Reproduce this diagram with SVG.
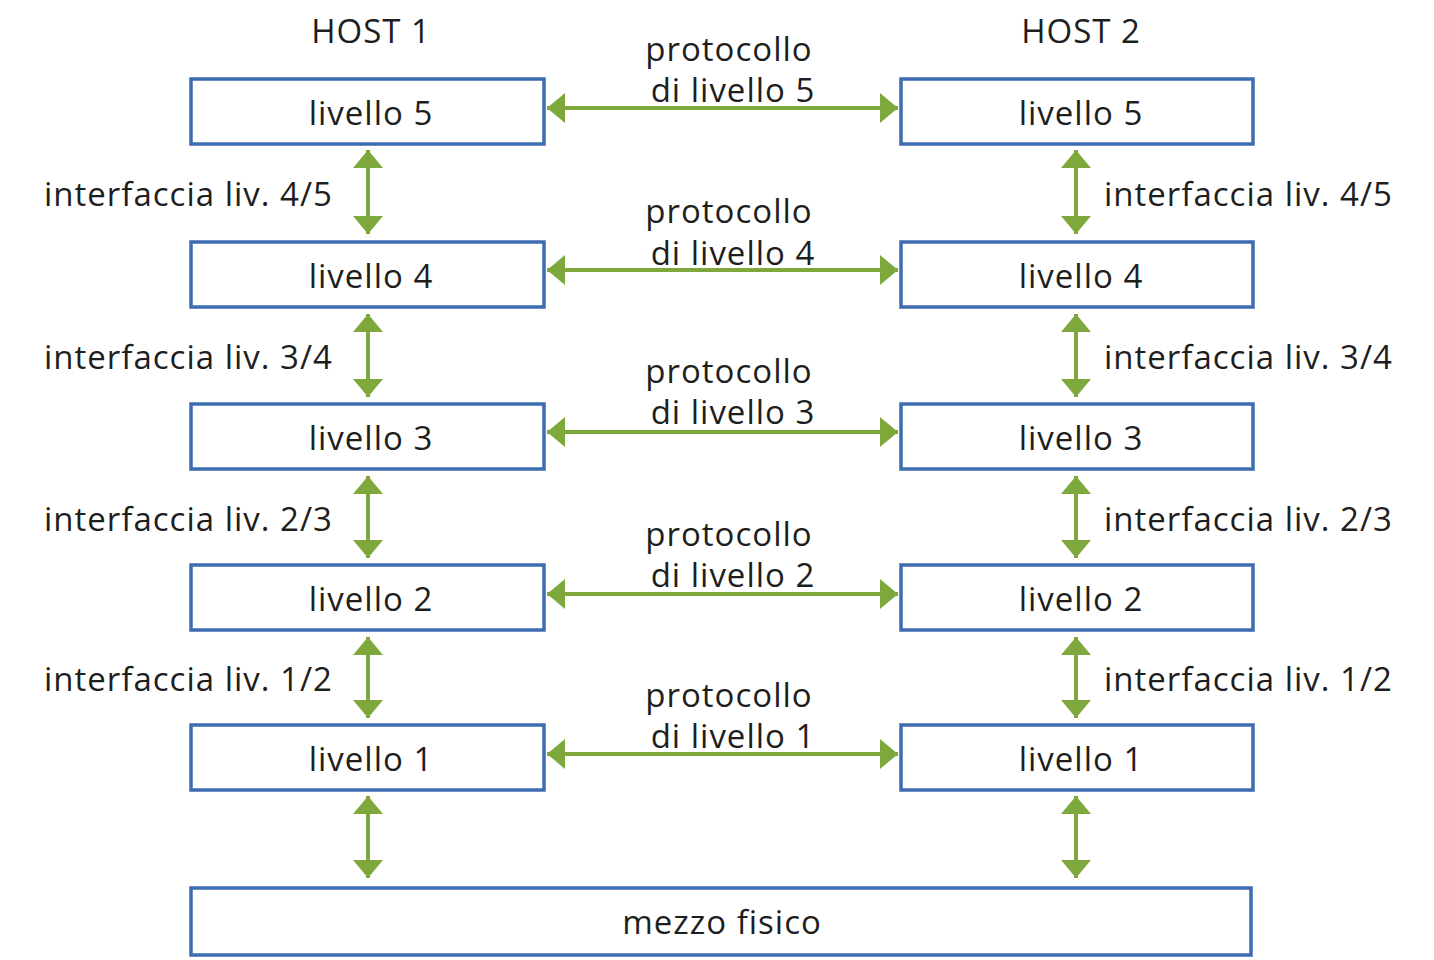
<svg xmlns="http://www.w3.org/2000/svg" width="1434" height="960" viewBox="0 0 1434 960">
<style>
.box{fill:#fff;stroke:#3d6cb0;stroke-width:3.5}
.t{font-family:"Open Sans","Noto Sans",sans-serif;font-size:33px;letter-spacing:1px;fill:#1e1e1e}
.c{text-anchor:middle}
.arr{stroke:#7fa83c;stroke-width:4;fill:none;marker-start:url(#ah);marker-end:url(#ah)}
</style>
<defs>
<marker id="ah" markerUnits="userSpaceOnUse" markerWidth="20" markerHeight="32" viewBox="0 -16 20 32" refX="18" refY="0" orient="auto-start-reverse">
<path d="M0,-15 L18,0 L0,15 Z" fill="#7fa83c"/>
</marker>
</defs>
<rect width="1434" height="960" fill="#fff"/>
<text class="t c" x="371" y="43">HOST 1</text>
<text class="t c" x="1081" y="43">HOST 2</text>
<g id="h1l5"><rect class="box" x="191" y="79" width="353" height="65"/><text class="t c" x="371" y="125">livello 5</text></g>
<g id="h1l4"><rect class="box" x="191" y="242" width="353" height="65"/><text class="t c" x="371" y="288">livello 4</text></g>
<g id="h1l3"><rect class="box" x="191" y="404" width="353" height="65"/><text class="t c" x="371" y="450">livello 3</text></g>
<g id="h1l2"><rect class="box" x="191" y="565" width="353" height="65"/><text class="t c" x="371" y="611">livello 2</text></g>
<g id="h1l1"><rect class="box" x="191" y="725" width="353" height="65"/><text class="t c" x="371" y="771">livello 1</text></g>
<g id="h2l5"><rect class="box" x="901" y="79" width="352" height="65"/><text class="t c" x="1081" y="125">livello 5</text></g>
<g id="h2l4"><rect class="box" x="901" y="242" width="352" height="65"/><text class="t c" x="1081" y="288">livello 4</text></g>
<g id="h2l3"><rect class="box" x="901" y="404" width="352" height="65"/><text class="t c" x="1081" y="450">livello 3</text></g>
<g id="h2l2"><rect class="box" x="901" y="565" width="352" height="65"/><text class="t c" x="1081" y="611">livello 2</text></g>
<g id="h2l1"><rect class="box" x="901" y="725" width="352" height="65"/><text class="t c" x="1081" y="771">livello 1</text></g>
<g id="mezzo"><rect class="box" x="191" y="888" width="1060" height="67"/><text class="t c" x="722" y="934">mezzo fisico</text></g>
<g id="connectors">
<line class="arr" x1="547" y1="108" x2="898" y2="108"/>
<line class="arr" x1="547" y1="270" x2="898" y2="270"/>
<line class="arr" x1="547" y1="432" x2="898" y2="432"/>
<line class="arr" x1="547" y1="594" x2="898" y2="594"/>
<line class="arr" x1="547" y1="754" x2="898" y2="754"/>
<line class="arr" x1="368" y1="150" x2="368" y2="234"/>
<line class="arr" x1="368" y1="314" x2="368" y2="397"/>
<line class="arr" x1="368" y1="476" x2="368" y2="558"/>
<line class="arr" x1="368" y1="637" x2="368" y2="718"/>
<line class="arr" x1="368" y1="796" x2="368" y2="878"/>
<line class="arr" x1="1076" y1="150" x2="1076" y2="234"/>
<line class="arr" x1="1076" y1="314" x2="1076" y2="397"/>
<line class="arr" x1="1076" y1="476" x2="1076" y2="558"/>
<line class="arr" x1="1076" y1="637" x2="1076" y2="718"/>
<line class="arr" x1="1076" y1="796" x2="1076" y2="878"/>
</g>
<g id="labels">
<text class="t c" x="729" y="61">protocollo</text><text class="t c" x="733" y="102">di livello 5</text>
<text class="t c" x="729" y="223">protocollo</text><text class="t c" x="733" y="265">di livello 4</text>
<text class="t c" x="729" y="383">protocollo</text><text class="t c" x="733" y="424">di livello 3</text>
<text class="t c" x="729" y="546">protocollo</text><text class="t c" x="733" y="587">di livello 2</text>
<text class="t c" x="729" y="707">protocollo</text><text class="t c" x="733" y="748">di livello 1</text>
<text class="t" x="44" y="206">interfaccia liv. 4/5</text><text class="t" x="1104" y="206">interfaccia liv. 4/5</text>
<text class="t" x="44" y="369">interfaccia liv. 3/4</text><text class="t" x="1104" y="369">interfaccia liv. 3/4</text>
<text class="t" x="44" y="531">interfaccia liv. 2/3</text><text class="t" x="1104" y="531">interfaccia liv. 2/3</text>
<text class="t" x="44" y="691">interfaccia liv. 1/2</text><text class="t" x="1104" y="691">interfaccia liv. 1/2</text>
</g>
</svg>
